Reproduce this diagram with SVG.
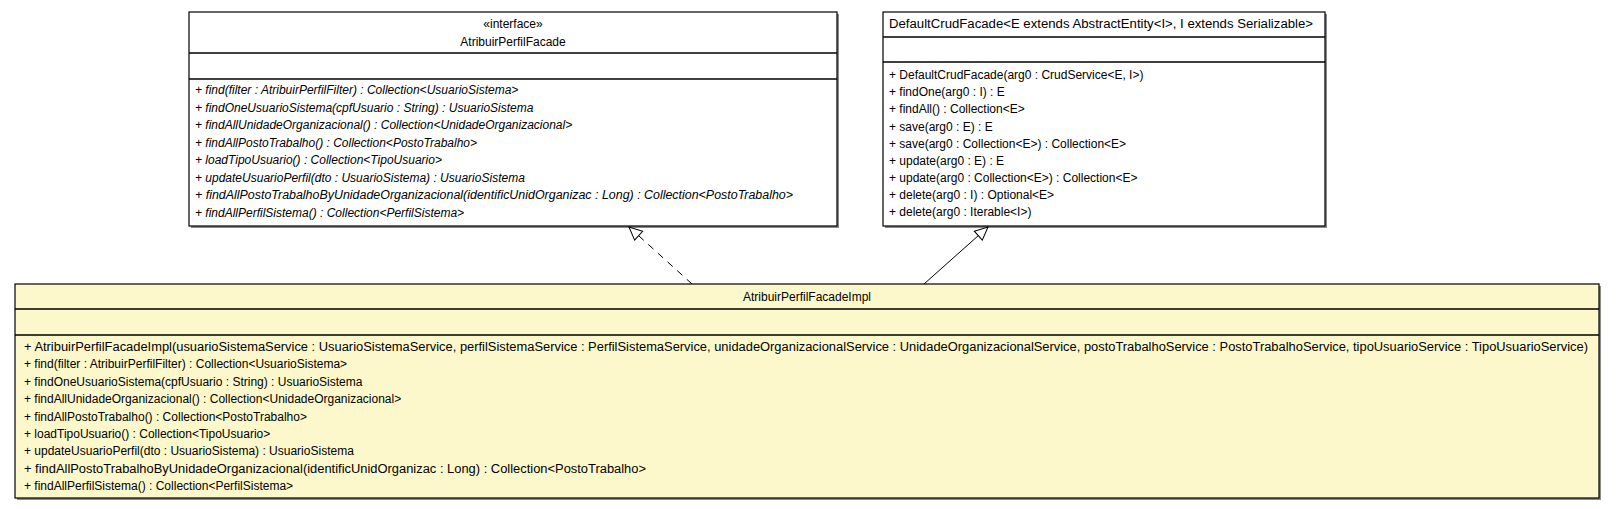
<svg xmlns="http://www.w3.org/2000/svg" width="1616" height="509" viewBox="0 0 1616 509">
<defs>
<style>
.box{fill:#ffffff;stroke:#000000;stroke-width:1.2}
.impl{fill:#fdf8cc;stroke:#000000;stroke-width:1.2}
.div{stroke:#000000;stroke-width:1.6}
.shadow{fill:#8a8a8a}
text{font-family:"Liberation Sans",Arial,sans-serif;font-size:12px;fill:#000000}
.it{font-style:italic}
.c{text-anchor:middle}
.dep{fill:none;stroke:#000000;stroke-width:1;stroke-dasharray:7,6}
.gen{fill:none;stroke:#000000;stroke-width:1}
</style>
<marker id="tri" markerWidth="16" markerHeight="14" refX="14" refY="7" orient="auto" markerUnits="userSpaceOnUse">
<path d="M1,1 L14,7 L1,13 Z" fill="#ffffff" stroke="#000000" stroke-width="1"/>
</marker>
</defs>

<g id="AtribuirPerfilFacade">
<rect class="shadow" x="191" y="14" width="648" height="214"/>
<rect class="box" x="189" y="12" width="648" height="214"/>
<line class="div" x1="189" y1="53" x2="837" y2="53"/>
<line class="div" x1="189" y1="79" x2="837" y2="79"/>
<text class="c" x="513" y="28">«interface»</text>
<text class="c" x="513" y="46">AtribuirPerfilFacade</text>
<text class="it" x="195" y="94">+ find(filter : AtribuirPerfilFilter) : Collection&lt;UsuarioSistema&gt;</text>
<text class="it" x="195" y="111.5">+ findOneUsuarioSistema(cpfUsuario : String) : UsuarioSistema</text>
<text class="it" x="195" y="129">+ findAllUnidadeOrganizacional() : Collection&lt;UnidadeOrganizacional&gt;</text>
<text class="it" x="195" y="146.5">+ findAllPostoTrabalho() : Collection&lt;PostoTrabalho&gt;</text>
<text class="it" x="195" y="164">+ loadTipoUsuario() : Collection&lt;TipoUsuario&gt;</text>
<text class="it" x="195" y="181.5">+ updateUsuarioPerfil(dto : UsuarioSistema) : UsuarioSistema</text>
<text class="it" x="195" y="199" textLength="598" lengthAdjust="spacingAndGlyphs">+ findAllPostoTrabalhoByUnidadeOrganizacional(identificUnidOrganizac : Long) : Collection&lt;PostoTrabalho&gt;</text>
<text class="it" x="195" y="216.5">+ findAllPerfilSistema() : Collection&lt;PerfilSistema&gt;</text>
</g>

<g id="DefaultCrudFacade">
<rect class="shadow" x="885" y="14" width="442" height="214"/>
<rect class="box" x="883" y="12" width="442" height="214"/>
<line class="div" x1="883" y1="37" x2="1325" y2="37"/>
<line class="div" x1="883" y1="62" x2="1325" y2="62"/>
<text class="c" x="1101" y="28" textLength="424" lengthAdjust="spacingAndGlyphs">DefaultCrudFacade&lt;E extends AbstractEntity&lt;I&gt;, I extends Serializable&gt;</text>
<text x="889" y="79">+ DefaultCrudFacade(arg0 : CrudService&lt;E, I&gt;)</text>
<text x="889" y="96">+ findOne(arg0 : I) : E</text>
<text x="889" y="113">+ findAll() : Collection&lt;E&gt;</text>
<text x="889" y="130.5">+ save(arg0 : E) : E</text>
<text x="889" y="147.5">+ save(arg0 : Collection&lt;E&gt;) : Collection&lt;E&gt;</text>
<text x="889" y="164.5">+ update(arg0 : E) : E</text>
<text x="889" y="181.5">+ update(arg0 : Collection&lt;E&gt;) : Collection&lt;E&gt;</text>
<text x="889" y="199">+ delete(arg0 : I) : Optional&lt;E&gt;</text>
<text x="889" y="216">+ delete(arg0 : Iterable&lt;I&gt;)</text>
</g>

<g id="AtribuirPerfilFacadeImpl">
<rect class="shadow" x="17" y="286" width="1584" height="214"/>
<rect class="impl" x="15" y="284" width="1584" height="214"/>
<line class="div" x1="15" y1="309" x2="1599" y2="309"/>
<line class="div" x1="15" y1="335" x2="1599" y2="335"/>
<text class="c" x="807" y="301">AtribuirPerfilFacadeImpl</text>
<text x="24" y="351" textLength="1564" lengthAdjust="spacingAndGlyphs">+ AtribuirPerfilFacadeImpl(usuarioSistemaService : UsuarioSistemaService, perfilSistemaService : PerfilSistemaService, unidadeOrganizacionalService : UnidadeOrganizacionalService, postoTrabalhoService : PostoTrabalhoService, tipoUsuarioService : TipoUsuarioService)</text>
<text x="24" y="368.4">+ find(filter : AtribuirPerfilFilter) : Collection&lt;UsuarioSistema&gt;</text>
<text x="24" y="385.8">+ findOneUsuarioSistema(cpfUsuario : String) : UsuarioSistema</text>
<text x="24" y="403.2">+ findAllUnidadeOrganizacional() : Collection&lt;UnidadeOrganizacional&gt;</text>
<text x="24" y="420.6">+ findAllPostoTrabalho() : Collection&lt;PostoTrabalho&gt;</text>
<text x="24" y="438">+ loadTipoUsuario() : Collection&lt;TipoUsuario&gt;</text>
<text x="24" y="455.4">+ updateUsuarioPerfil(dto : UsuarioSistema) : UsuarioSistema</text>
<text x="24" y="472.8" textLength="622" lengthAdjust="spacingAndGlyphs">+ findAllPostoTrabalhoByUnidadeOrganizacional(identificUnidOrganizac : Long) : Collection&lt;PostoTrabalho&gt;</text>
<text x="24" y="490.2">+ findAllPerfilSistema() : Collection&lt;PerfilSistema&gt;</text>
</g>

<g id="connectors">
<line class="dep" x1="692" y1="284" x2="629" y2="227" marker-end="url(#tri)"/>
<line class="gen" x1="924" y1="284" x2="988" y2="227" marker-end="url(#tri)"/>
</g>
</svg>
